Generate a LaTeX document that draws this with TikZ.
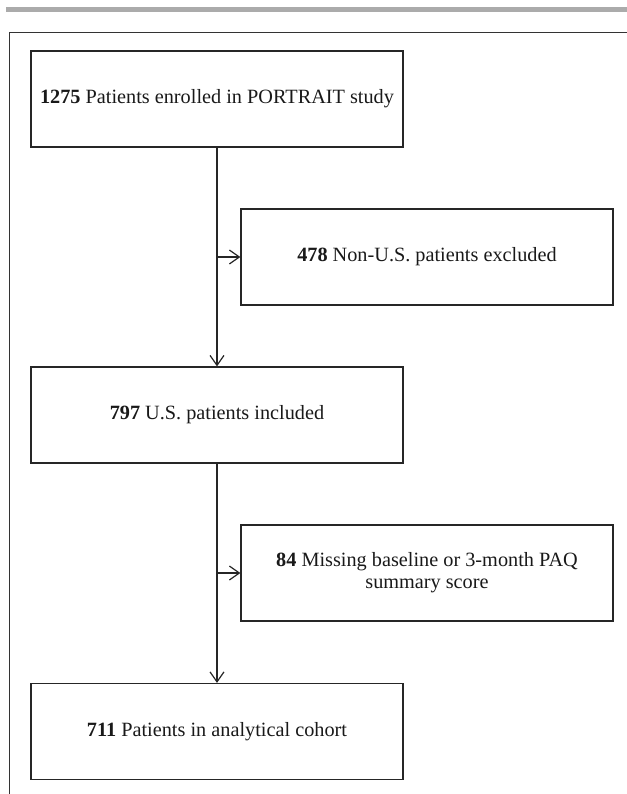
\documentclass[tikz,border=0pt]{standalone}
\usepackage{fontspec}
\setmainfont{Liberation Serif}
\usetikzlibrary{arrows.meta}
\begin{document}
\begin{tikzpicture}[x=0.75pt,y=-0.75pt,
  box/.style={draw=black!85, line width=0.9pt, minimum width=279pt, minimum height=72pt,
    inner sep=0pt, align=center, font=\fontsize{15.2pt}{16.5pt}\selectfont, text=black!90},
  arr/.style={draw=black!85, line width=0.9pt, -{Straight Barb[length=7.5pt,width=10.5pt,line width=0.9pt]}},
  frameline/.style={draw=black!80, line width=1.3pt},
  topbar/.style={fill=black!33, draw=none}]
\useasboundingbox (0,0) rectangle (627,794);
\fill[topbar] (6,6.5) rectangle (627,11.5);
\coordinate (fr1) at (627,32.5);
\coordinate (fr2) at (9.5,32.5);
\coordinate (fr3) at (9.5,794);
\draw[frameline] (fr1) -- (fr2) -- (fr3);

\node[box] (b1) at (217,99) {\textbf{1275} Patients enrolled in PORTRAIT study};
\node[box] (b2) at (427,257) {\textbf{478} Non-U.S. patients excluded};
\node[box] (b3) at (217,415) {\textbf{797} U.S. patients included};
\node[box] (b4) at (427,573) {\textbf{84} Missing baseline or 3-month PAQ\\summary score};
\node[box] (b5) at (217,731.5) {\textbf{711} Patients in analytical cohort};

\coordinate (j1) at (217,257);
\coordinate (j2) at (217,573);
\draw[arr] (b1) -- (b3);
\draw[arr] (b3) -- (b5);
\draw[arr] (j1) -- (b2);
\draw[arr] (j2) -- (b4);
\end{tikzpicture}
\end{document}
